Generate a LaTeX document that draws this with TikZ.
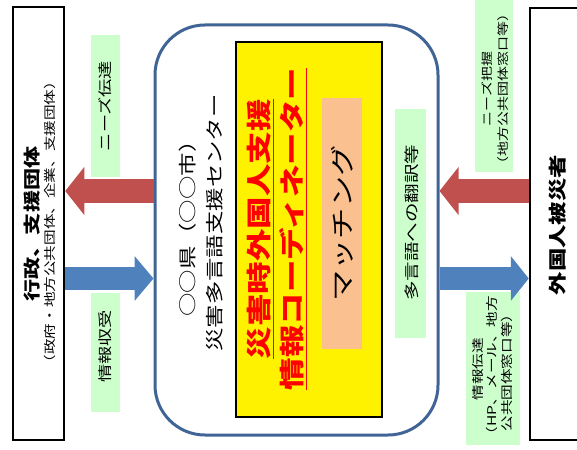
\documentclass[tikz,border=0pt]{standalone}
\usepackage{fontspec}
\setmainfont{Noto Sans CJK JP}
\usetikzlibrary{arrows.meta}

\definecolor{frameblue}{RGB}{65,100,150}
\definecolor{notegreen}{RGB}{204,255,204}
\definecolor{matchpeach}{RGB}{250,192,144}
\definecolor{arrowred}{RGB}{192,80,77}
\definecolor{arrowblue}{RGB}{79,129,189}

\begin{document}
\begin{tikzpicture}[x=1pt, y=-1pt,
    vtext/.style={rotate=90, xscale=1.3, align=center, inner sep=0pt},
    panel/.style={draw=black, line width=2.5pt},
    notebox/.style={fill=notegreen, inner sep=0pt},
    bigarrow/.style={line width=24pt, -{Triangle[width=47pt, length=19pt]}}]
    \useasboundingbox (0,0) rectangle (577,449);

    % Outer boxes
    \node[panel, minimum width=51pt, minimum height=433pt] (admin) at (38.5,223.5) {};
    \node[panel, minimum width=56pt, minimum height=432pt] (victims) at (558,224) {};
    \node[draw=frameblue, line width=3pt, rounded corners=50pt,
          minimum width=283pt, minimum height=410pt] (hub) at (296.5,230) {};

    % Inner boxes
    \node[fill=yellow, draw=black, line width=2.5pt, minimum width=146pt, minimum height=375pt] (coord) at (309,229.5) {};
    \node[fill=matchpeach, minimum width=40pt, minimum height=251pt] (match) at (342,223.5) {};

    % Green notes
    \node[notebox, minimum width=29pt, minimum height=142pt] (needsbox) at (105.5,106) {};
    \node[notebox, minimum width=29pt, minimum height=119pt] (receivebox) at (105.5,352.5) {};
    \node[notebox, minimum width=31pt, minimum height=229pt] (transbox) at (410.5,223.5) {};
    \node[notebox, minimum width=38pt, minimum height=190pt] (graspbox) at (494,77) {};
    \node[notebox, minimum width=54pt, minimum height=153pt] (sendbox) at (493,368.5) {};

    % Arrows
    \draw[bigarrow, arrowred] (hub.west |- 0,191) -- (admin.east |- 0,191);
    \draw[bigarrow, arrowblue, line width=23pt, -{Triangle[width=44pt, length=19pt]}]
        (admin.east |- 0,278.5) -- (hub.west |- 0,278.5);
    \draw[bigarrow, arrowred] (victims.west |- 0,191) -- (hub.east |- 0,191);
    \draw[bigarrow, arrowblue, line width=23pt, -{Triangle[width=44pt, length=18pt]}]
        (hub.east |- 0,278.5) -- (victims.west |- 0,278.5);

    % Labels
    \node[vtext, font=\fontsize{17}{19}\selectfont\bfseries] (adminlabel) at (32,224)
        {行政、支援団体};
    \node[vtext, font=\fontsize{12}{14}\selectfont] (adminsub) at (50,222)
        {（政府・地方公共団体、企業、支援団体）};
    \node[vtext, font=\fontsize{18}{27}\selectfont] (hublabel) at (201,223)
        {○○県（○○市）\\災害多言語支援センター};
    \node[vtext, font=\fontsize{25}{33}\selectfont\bfseries, red] (coordlabel) at (277,229)
        {\underline{災害時外国人支援}\\\underline{情報コーディネーター}};
    \node[vtext, font=\fontsize{24}{28}\selectfont] (matchlabel) at (match) {マッチング};
    \node[vtext, font=\fontsize{15}{18}\selectfont] (translabel) at (412,222.5) {多言語への翻訳等};
    \node[vtext, font=\fontsize{18}{20}\selectfont\bfseries] (victimslabel) at (558,225) {外国人被災者};

    \node[vtext, font=\fontsize{14}{16}\selectfont] (needslabel) at (needsbox) {ニーズ伝達};
    \node[vtext, font=\fontsize{14}{16}\selectfont] (receivelabel) at (105.5,346.5) {情報収受};
    \node[vtext, font=\fontsize{11.5}{16}\selectfont] (grasplabel) at (495,89)
        {ニーズ把握\\（地方公共団体窓口等）};
    \node[vtext, font=\fontsize{12}{14.5}\selectfont] (sendlabel) at (492.5,369)
        {情報伝達\\（HP、メール、地方\\公共団体窓口等）};
\end{tikzpicture}
\end{document}
